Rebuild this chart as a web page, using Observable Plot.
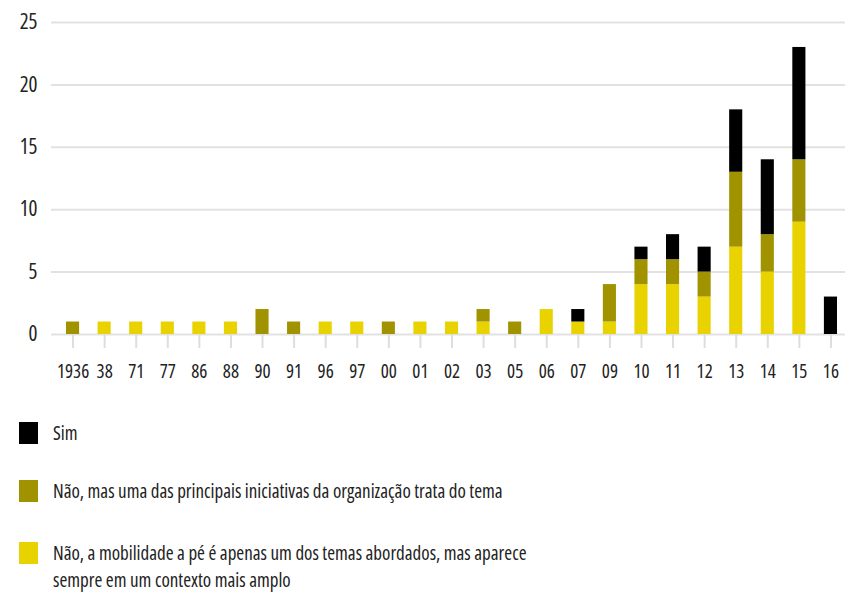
<!DOCTYPE html>
<html>
<head>
<meta charset="utf-8">
<script src="https://cdn.jsdelivr.net/npm/d3@7"></script>
<script src="https://cdn.jsdelivr.net/npm/@observablehq/plot@0.6"></script>
<style>
  body { margin: 0; background: #fff; font-family: "Open Sans", sans-serif; font-stretch: 75%; color: #222; }
  #chart svg { display: block; }
  .legend { position: relative; height: 200px; }
  .item { position: absolute; left: 19px; display: flex; align-items: flex-start; font-size: 19px; line-height: 27px; }
  .sw { width: 19px; height: 22px; margin-right: 15px; margin-top: 2px; flex: none; }
</style>
</head>
<body>
<div id="chart"></div>
<div class="legend" id="legend"></div>
<script>
const years = ["1936","38","71","77","86","88","90","91","96","97","00","01","02","03","05","06","07","09","10","11","12","13","14","15","16"];
const naoAmplo      = [0,1,1,1,1,1,0,0,1,1,0,1,1,1,0,2,1,1,4,4,3,7,5,9,0];
const naoIniciativa = [1,0,0,0,0,0,2,1,0,0,1,0,0,1,1,0,0,3,2,2,2,6,3,5,0];
const sim           = [0,0,0,0,0,0,0,0,0,0,0,0,0,0,0,0,1,0,1,2,2,5,6,9,3];
const seriesNames = [
  "Não, a mobilidade a pé é apenas um dos temas abordados, mas aparece sempre em um contexto mais amplo",
  "Não, mas uma das principais iniciativas da organização trata do tema",
  "Sim"
];
const seriesColors = ["#e8d300", "#a19200", "#000000"];
const yTicks = [0, 5, 10, 15, 20, 25];

const data = [];
[naoAmplo, naoIniciativa, sim].forEach((arr, s) => {
  arr.forEach((v, i) => data.push({year: years[i], series: seriesNames[s], value: v}));
});

const chart = Plot.plot({
  width: 845,
  height: 392,
  marginTop: 22,
  marginLeft: 66,
  marginRight: 8,
  marginBottom: 58,
  style: "font-family: 'Open Sans', sans-serif; font-stretch: 75%; color: #222; background: #fff;",
  x: {domain: years, paddingInner: 0.585, paddingOuter: 0, round: false, label: null},
  y: {domain: [0, 25], label: null},
  color: {domain: seriesNames, range: seriesColors},
  marks: [
    Plot.ruleY(yTicks, {y: d => d, stroke: "#e2e2e2", strokeWidth: 2, insetLeft: -15, insetRight: -8}),
    Plot.axisY({ticks: yTicks, tickSize: 0, tickPadding: 29, fontSize: 21, fill: "#222", label: null}),
    Plot.axisX({tickSize: 14, tickPadding: 16, stroke: "#dedede", strokeWidth: 2, fontSize: 19, fill: "#222", label: null}),
    Plot.barY(data, {x: "year", y: "value", fill: "series", order: seriesNames})
  ]
});
document.getElementById("chart").appendChild(chart);

const legendItems = [
  {color: seriesColors[2], text: seriesNames[2], top: 28},
  {color: seriesColors[1], text: seriesNames[1], top: 86},
  {color: seriesColors[0], text: "Não, a mobilidade a pé é apenas um dos temas abordados, mas aparece<br>sempre em um contexto mais amplo", top: 148}
];
const leg = document.getElementById("legend");
legendItems.forEach(it => {
  const div = document.createElement("div");
  div.className = "item";
  div.style.top = it.top + "px";
  div.innerHTML = `<div class="sw" style="background:${it.color}"></div><div>${it.text}</div>`;
  leg.appendChild(div);
});
</script>
</body>
</html>
